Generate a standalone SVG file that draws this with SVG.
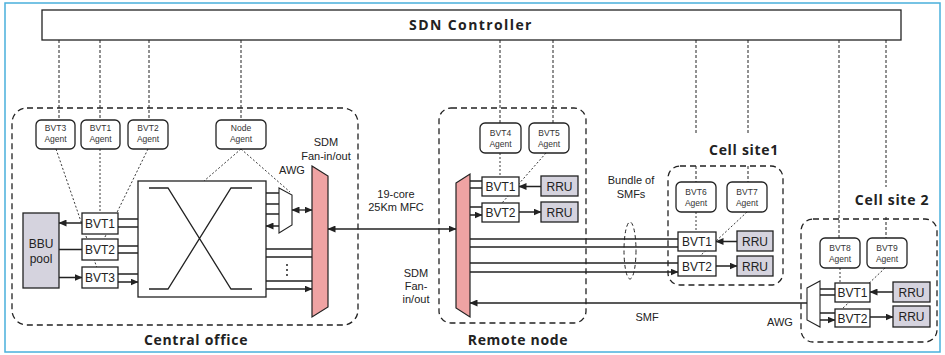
<svg xmlns="http://www.w3.org/2000/svg" width="945" height="355" viewBox="0 0 945 355">
<defs>
<marker id="ah" viewBox="0 0 8 7" refX="7.5" refY="3.5" markerWidth="8" markerHeight="7" markerUnits="userSpaceOnUse" orient="auto-start-reverse">
<path d="M0,0 L8,3.5 L0,7 z" fill="#222"/>
</marker>
<style>
.big{font-family:"Open Sans","DejaVu Sans",sans-serif;font-weight:700;font-size:14px;fill:#222;letter-spacing:0.7px}
.lbl{font-family:"Liberation Sans Narrow","Liberation Sans",sans-serif;font-size:11px;fill:#222;text-anchor:middle}
.bvt{font-family:"Liberation Sans Narrow","Liberation Sans",sans-serif;font-size:12px;fill:#222;text-anchor:middle}
.ag{font-family:"Liberation Sans Narrow","Liberation Sans",sans-serif;font-size:8.5px;fill:#333;text-anchor:middle}
.box{fill:#fff;stroke:#222;stroke-width:1.3}
.gbox{fill:#d5d3de;stroke:#222;stroke-width:1.3}
.agent{fill:#fff;stroke:#222;stroke-width:1.3}
.fan{fill:#efa3a3;stroke:#222;stroke-width:1.2}
.awg{fill:#fff;stroke:#222;stroke-width:1.1}
.region{fill:none;stroke:#222;stroke-width:1.3;stroke-dasharray:6,4}
.ctl{fill:none;stroke:#222;stroke-width:1;stroke-dasharray:3,2}
.dot{fill:none;stroke:#222;stroke-width:0.9;stroke-dasharray:2,2}
.w{fill:none;stroke:#222;stroke-width:1.3}
.a1{fill:none;stroke:#222;stroke-width:1.3;marker-end:url(#ah)}
.a2{fill:none;stroke:#222;stroke-width:1.3;marker-end:url(#ah);marker-start:url(#ah)}
</style>
</defs>
<rect x="5" y="3" width="935" height="349" fill="#fff" stroke="#4ab0dc" stroke-width="1.5"/>

<!-- regions -->
<g id="central-office">
<rect class="region" x="12" y="108" width="346" height="217" rx="15"/>
<text class="big" x="196" y="345" text-anchor="middle">Central office</text>
</g>
<g id="remote-node">
<rect class="region" x="439" y="108" width="147" height="215" rx="12"/>
<text class="big" x="518" y="345" text-anchor="middle">Remote node</text>
</g>
<g id="cell-site1">
<rect class="region" x="668" y="166" width="115" height="119" rx="12"/>
<text class="big" x="744" y="155" text-anchor="middle">Cell site1</text>
</g>
<g id="cell-site2">
<rect class="region" x="801" y="219" width="136" height="123" rx="12"/>
<text class="big" x="892" y="205" text-anchor="middle">Cell site 2</text>
</g>

<g id="sdn-controller">
<rect x="42" y="10" width="859" height="30" fill="#fff" stroke="#222" stroke-width="1.3"/>
<text class="big" x="471" y="30" text-anchor="middle" style="letter-spacing:1.4px">SDN Controller</text>
</g>

<!-- connectors -->
<g id="connectors">
<!-- controller links -->
<path class="ctl" d="M59,40 V120 M100,40 V120 M149,40 V120 M241,40 V120 M500,40 V123 M553,40 V123 M696,40 V135 M696,166 V182 M748,40 V135 M748,166 V182 M839,40 V238 M886,40 V187 M886,217 V238"/>
<!-- agent to device -->
<path class="dot" d="M56,149 L97,268 M100,149 V213 M148,149 L104,239 M241,149 L204,181 M241,149 L290,192 M500,153 V177 M546,153 L502,203 M696,212 V232 M747,212 L700,256 M840,268 V283 M885,268 L842,309"/>
<!-- central office -->
<path class="a2" d="M59,223 H82 M59,249.5 H82 M59,277.5 H82"/>
<path class="a1" d="M138,219 H118 M118,227 H138 M138,246 H118 M118,253 H138 M138,274 H118 M118,282 H138"/>
<path class="a1" d="M266,193 H279 M266,204 H279 M279,214 H266 M279,226 H266"/>
<path class="a2" d="M292,210 H312"/>
<path class="a1" d="M312,249 H266 M266,257 H312 M312,281 H266 M266,289 H312"/>
<circle cx="287" cy="265" r="1" fill="#222"/><circle cx="287" cy="270" r="1" fill="#222"/><circle cx="287" cy="275" r="1" fill="#222"/>
<path class="a2" d="M328,229 H456"/>
<!-- remote node -->
<path class="a1" d="M482,181 H470 M470,188 H482 M482,207 H470 M470,215 H482"/>
<path class="a2" d="M519,186.5 H541 M519,212 H541"/>
<path class="a1" d="M678,239 H470 M470,247 H678 M678,263 H470 M470,272 H678"/>
<path class="a1" d="M807,303 H470"/>
<ellipse cx="630" cy="250.5" rx="6" ry="28.5" fill="none" stroke="#222" stroke-width="1" stroke-dasharray="4,3"/>
<!-- cell site 1 -->
<path class="a2" d="M716,241.5 H737 M716,266 H737"/>
<!-- cell site 2 -->
<path class="a1" d="M835,289 H820 M820,295 H835 M835,313 H820 M820,320 H835"/>
<path class="a2" d="M870,292 H893 M870,317 H893"/>
</g>

<!-- central office nodes -->
<g id="bvt3-agent-co"><rect class="agent" x="36" y="120" width="39" height="29" rx="5"/><text class="ag" x="55.5" y="131">BVT3</text><text class="ag" x="55.5" y="142">Agent</text></g>
<g id="bvt1-agent-co"><rect class="agent" x="81" y="120" width="39" height="29" rx="5"/><text class="ag" x="100.5" y="131">BVT1</text><text class="ag" x="100.5" y="142">Agent</text></g>
<g id="bvt2-agent-co"><rect class="agent" x="128" y="120" width="40" height="29" rx="5"/><text class="ag" x="148" y="131">BVT2</text><text class="ag" x="148" y="142">Agent</text></g>
<g id="node-agent"><rect class="agent" x="216" y="120" width="50" height="29" rx="5"/><text class="ag" x="241" y="131">Node</text><text class="ag" x="241" y="142">Agent</text></g>
<g id="bbu-pool"><rect class="gbox" x="23" y="213" width="36" height="75"/><text class="bvt" x="41" y="248">BBU</text><text class="bvt" x="41" y="263">pool</text></g>
<g id="bvt1-co"><rect class="box" x="82" y="213" width="36" height="21"/><text class="bvt" x="100" y="228">BVT1</text></g>
<g id="bvt2-co"><rect class="box" x="82" y="239" width="36" height="21"/><text class="bvt" x="100" y="254">BVT2</text></g>
<g id="bvt3-co"><rect class="box" x="82" y="267" width="36" height="21"/><text class="bvt" x="100" y="282">BVT3</text></g>
<g id="optical-switch">
<rect class="box" x="138" y="181" width="128" height="116"/>
<path class="w" d="M149,188 H168 L231,289 H252 M252,188 H231 L168,289 H149"/>
</g>
<g id="awg-co"><polygon class="awg" points="279,188 292,195 292,225 279,233"/><text class="lbl" x="292" y="174">AWG</text></g>
<g id="sdm-fan-co"><polygon class="fan" points="312,166 328,176 328,307 312,317"/><text class="lbl" x="326" y="146">SDM</text><text class="lbl" x="326" y="160">Fan-in/out</text></g>
<g id="mfc-label"><text class="lbl" x="396" y="198">19-core</text><text class="lbl" x="396" y="211">25Km MFC</text></g>

<!-- remote node -->
<g id="sdm-fan-rn"><polygon class="fan" points="456,183 470,174 470,317 456,308"/><text class="lbl" x="416" y="277">SDM</text><text class="lbl" x="416" y="290">Fan-</text><text class="lbl" x="416" y="303">in/out</text></g>
<g id="bvt4-agent"><rect class="agent" x="480" y="123" width="41" height="30" rx="5"/><text class="ag" x="500.5" y="136">BVT4</text><text class="ag" x="500.5" y="147">Agent</text></g>
<g id="bvt5-agent"><rect class="agent" x="529" y="123" width="40" height="30" rx="5"/><text class="ag" x="549" y="136">BVT5</text><text class="ag" x="549" y="147">Agent</text></g>
<g id="bvt1-rn"><rect class="box" x="482" y="177" width="37" height="19"/><text class="bvt" x="500.5" y="191">BVT1</text></g>
<g id="bvt2-rn"><rect class="box" x="482" y="203" width="37" height="19"/><text class="bvt" x="500.5" y="217">BVT2</text></g>
<g id="rru1-rn"><rect class="gbox" x="541" y="176" width="37" height="20"/><text class="bvt" x="559.5" y="191">RRU</text></g>
<g id="rru2-rn"><rect class="gbox" x="541" y="202" width="37" height="20"/><text class="bvt" x="559.5" y="217">RRU</text></g>
<g id="bundle-label"><text class="lbl" x="631" y="184">Bundle of</text><text class="lbl" x="631" y="198">SMFs</text></g>
<g id="smf-label"><text class="lbl" x="647" y="321">SMF</text></g>

<!-- cell site 1 -->
<g id="bvt6-agent"><rect class="agent" x="676" y="182" width="40" height="30" rx="5"/><text class="ag" x="696" y="195">BVT6</text><text class="ag" x="696" y="206">Agent</text></g>
<g id="bvt7-agent"><rect class="agent" x="727" y="182" width="40" height="30" rx="5"/><text class="ag" x="747" y="195">BVT7</text><text class="ag" x="747" y="206">Agent</text></g>
<g id="bvt1-cs1"><rect class="box" x="678" y="232" width="38" height="19"/><text class="bvt" x="697" y="246">BVT1</text></g>
<g id="bvt2-cs1"><rect class="box" x="678" y="256" width="38" height="20"/><text class="bvt" x="697" y="270.5">BVT2</text></g>
<g id="rru1-cs1"><rect class="gbox" x="737" y="231" width="36" height="20"/><text class="bvt" x="755" y="246">RRU</text></g>
<g id="rru2-cs1"><rect class="gbox" x="737" y="256" width="36" height="20"/><text class="bvt" x="755" y="270.5">RRU</text></g>

<!-- cell site 2 -->
<g id="bvt8-agent"><rect class="agent" x="820" y="238" width="40" height="30" rx="5"/><text class="ag" x="840" y="251">BVT8</text><text class="ag" x="840" y="262">Agent</text></g>
<g id="bvt9-agent"><rect class="agent" x="867" y="238" width="40" height="30" rx="5"/><text class="ag" x="887" y="251">BVT9</text><text class="ag" x="887" y="262">Agent</text></g>
<g id="awg-cs2"><polygon class="awg" points="807,288 820,281 820,327 807,320"/><text class="lbl" x="780" y="326">AWG</text></g>
<g id="bvt1-cs2"><rect class="box" x="835" y="283" width="35" height="19"/><text class="bvt" x="852.5" y="297">BVT1</text></g>
<g id="bvt2-cs2"><rect class="box" x="835" y="309" width="35" height="18"/><text class="bvt" x="852.5" y="322.5">BVT2</text></g>
<g id="rru1-cs2"><rect class="gbox" x="893" y="282" width="37" height="20"/><text class="bvt" x="911.5" y="297">RRU</text></g>
<g id="rru2-cs2"><rect class="gbox" x="893" y="306" width="37" height="21"/><text class="bvt" x="911.5" y="321">RRU</text></g>
</svg>
